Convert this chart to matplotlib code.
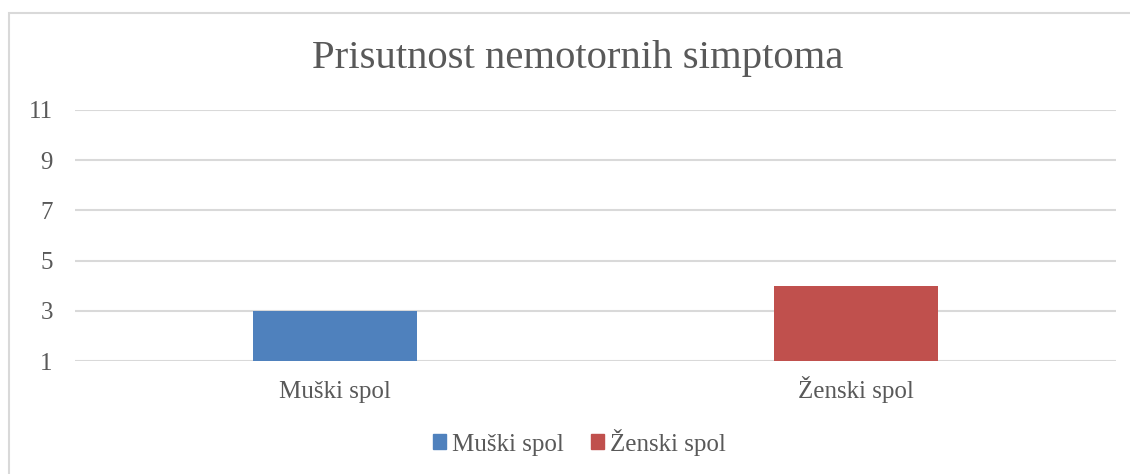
import matplotlib.pyplot as plt
from matplotlib.patches import Rectangle, Patch
from matplotlib.transforms import blended_transform_factory

# podaci
kategorije = ['Muški spol', 'Ženski spol']
vrijednosti = [3, 4]
boje = ['#4F81BD', '#C0504D']
y_ticks = [1, 3, 5, 7, 9, 11]

TEXT = '#595959'
GRID = '#D9D9D9'
plt.rcParams['font.family'] = ['Liberation Serif', 'DejaVu Serif']

fig = plt.figure(figsize=(11.3, 4.74), dpi=100)
ax = fig.add_axes([75 / 1130, 113 / 474, 1041 / 1130, 251 / 474])

x = list(range(len(kategorije)))
ax.bar(x, [v - 1 for v in vrijednosti], bottom=1, width=0.315, color=boje, zorder=3)

ax.set_xlim(-0.5, len(kategorije) - 0.5)
ax.set_ylim(1, 11)
ax.set_yticks(y_ticks)
ax.set_xticks(x)
ax.set_xticklabels([])
ax.tick_params(axis='both', length=0, colors=TEXT, labelsize=18)
ax.tick_params(axis='y', pad=16)
ax.grid(axis='y', color=GRID, linewidth=1.5, zorder=0)
for s in ax.spines.values():
    s.set_visible(False)

# oznake kategorija na istoj baznoj liniji
trans = blended_transform_factory(ax.transData, fig.transFigure)
for xi, k in zip(x, kategorije):
    ax.text(xi, 1 - 398 / 474, k, transform=trans, ha='center', va='baseline',
            fontsize=18, color=TEXT)

fig.text(0.511, 1 - 68 / 474, 'Prisutnost nemotornih simptoma', ha='center', va='baseline',
         fontsize=29.3, color=TEXT)

handles = [Patch(color=c, label=k) for c, k in zip(boje, kategorije)]
fig.legend(handles=handles, loc='center', bbox_to_anchor=(0.513, 1 - 442 / 474), ncol=2,
           frameon=False, fontsize=18, labelcolor=TEXT, handlelength=0.52, handleheight=0.52,
           handletextpad=0.24, columnspacing=1.08)

fig.patches.append(Rectangle((9 / 1130, -0.1), 1.1, 1.1 - 13 / 474, transform=fig.transFigure,
                             fill=False, edgecolor=GRID, linewidth=1.5))

fig.savefig('out.png', dpi=100, facecolor='white')
